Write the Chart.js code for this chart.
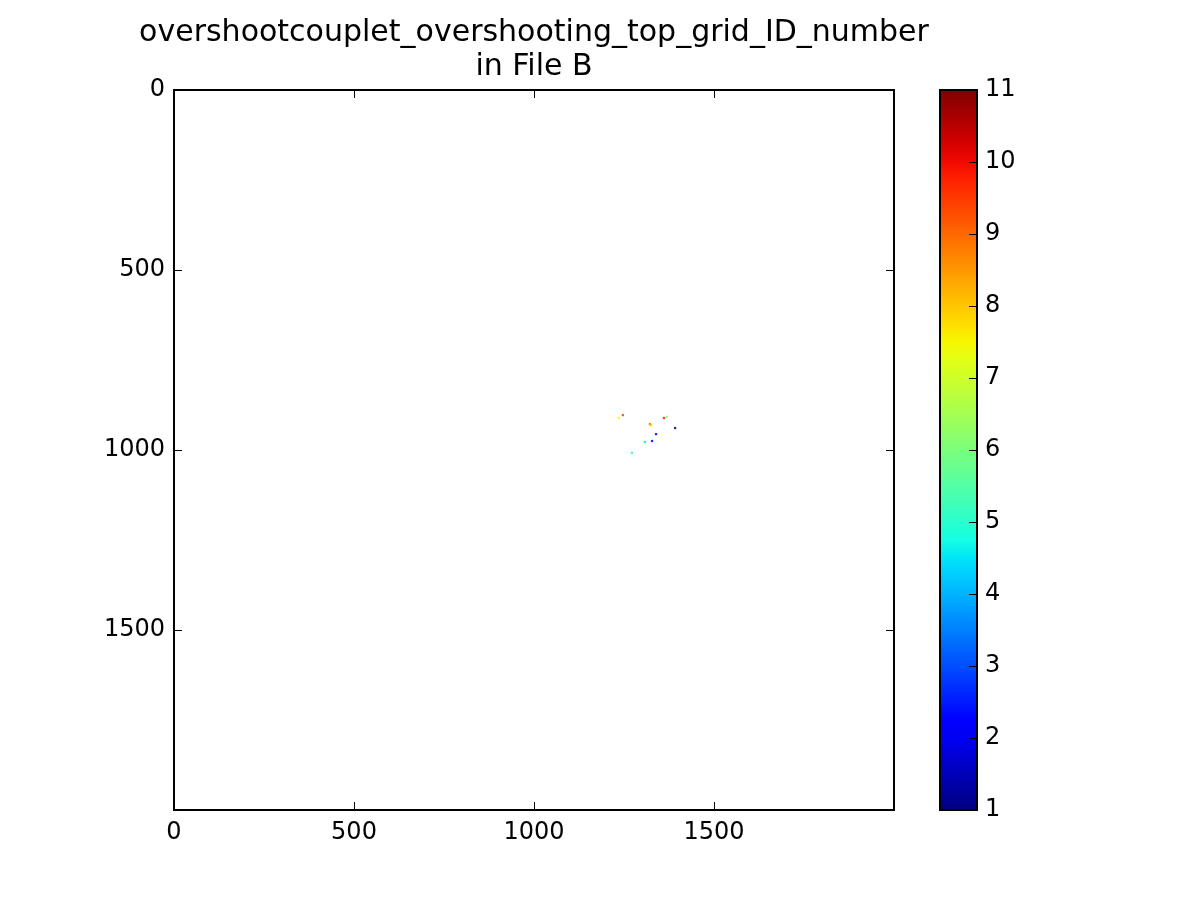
<!DOCTYPE html>
<html>
<head>
<meta charset="utf-8">
<script src="https://cdn.jsdelivr.net/npm/chart.js@4.4.1/dist/chart.umd.min.js"></script>
<style>
  body { margin: 0; background: #fff; }
  #wrap { position: relative; width: 1200px; height: 900px; }
  #wrap canvas { position: absolute; top: 0; }
</style>
</head>
<body>
<div id="wrap">
  <canvas id="imgChart" width="1068" height="900" style="left:0"></canvas>
  <canvas id="cbarChart" width="100" height="900" style="left:930px"></canvas>
</div>
<script>
const titleLines = ['overshootcouplet_overshooting_top_grid_ID_number', 'in File B']

// pixels that carry a grid ID (column, row, value)
const pixelX = [1247, 1236, 1361, 1369, 1322, 1325, 1392, 1339, 1328, 1308, 1272]
const pixelY = [903, 911, 911, 908, 928, 931, 939, 956, 975, 978, 1008]
const pixelVal = [9.4, 7.3, 9.8, 6.0, 9.0, 8.0, 1.0, 2.0, 2.1, 4.5, 5.0]

const axisTicks = [0, 500, 1000, 1500]
const axisMax = 2000
const cbarTicks = [1, 2, 3, 4, 5, 6, 7, 8, 9, 10, 11]
const cbarMin = 1
const cbarMax = 11

const FONT = 'DejaVu Sans'
const TICK_LEN = 8

// matplotlib jet colormap
const JET = {
  r: [[0, 0], [0.35, 0], [0.66, 1], [0.89, 1], [1, 0.5]],
  g: [[0, 0], [0.125, 0], [0.375, 1], [0.64, 1], [0.91, 0], [1, 0]],
  b: [[0, 0.5], [0.11, 1], [0.34, 1], [0.65, 0], [1, 0]],
}

function channel(stops, t) {
  for (let i = 1; i < stops.length; i++) {
    const [x0, y0] = stops[i - 1]
    const [x1, y1] = stops[i]
    if (t <= x1) return y0 + (y1 - y0) * (t - x0) / (x1 - x0)
  }
  return stops[stops.length - 1][1]
}

function jet(t, alpha = 1) {
  t = Math.min(1, Math.max(0, t))
  const r = Math.round(channel(JET.r, t) * 255)
  const g = Math.round(channel(JET.g, t) * 255)
  const b = Math.round(channel(JET.b, t) * 255)
  return `rgba(${r},${g},${b},${alpha})`
}

const valueColor = v => jet((v - cbarMin) / (cbarMax - cbarMin), 0.85)

// black frame round the plot area
const framePlugin = {
  id: 'frame',
  afterDraw(chart) {
    const { ctx, chartArea: a } = chart
    ctx.save()
    ctx.strokeStyle = '#000'
    ctx.lineWidth = 2
    ctx.strokeRect(a.left, a.top, a.right - a.left, a.bottom - a.top)
    ctx.restore()
  },
}

// matplotlib style ticks pointing into the plot
const inwardTicks = {
  id: 'inwardTicks',
  afterDraw(chart, args, opts) {
    const { ctx, chartArea: a, scales } = chart
    ctx.save()
    ctx.strokeStyle = '#000'
    ctx.lineWidth = 1
    ctx.beginPath()
    if (opts.x) {
      for (const v of opts.x) {
        const px = Math.round(scales.x.getPixelForValue(v)) + 0.5
        ctx.moveTo(px, a.bottom); ctx.lineTo(px, a.bottom - TICK_LEN)
        ctx.moveTo(px, a.top); ctx.lineTo(px, a.top + TICK_LEN)
      }
    }
    if (opts.y) {
      for (const v of opts.y) {
        const py = Math.round(scales.y.getPixelForValue(v)) + 0.5
        if (opts.left) { ctx.moveTo(a.left, py); ctx.lineTo(a.left + TICK_LEN, py) }
        ctx.moveTo(a.right, py); ctx.lineTo(a.right - TICK_LEN, py)
      }
    }
    ctx.stroke()
    ctx.restore()
  },
}

const fixedTicks = list => scale => { scale.ticks = list.map(value => ({ value })) }
const plainLabel = value => String(value)

// canvas is 1068 wide; an empty right axis (174 px) keeps the title centred over the plot
new Chart(document.getElementById('imgChart'), {
  type: 'scatter',
  data: {
    datasets: [{
      data: pixelX.map((x, i) => ({ x, y: pixelY[i], v: pixelVal[i] })),
      backgroundColor: pixelVal.map(valueColor),
      borderWidth: 0,
      pointStyle: 'rect',
      pointRadius: 1.6,
      pointHoverRadius: 1.6,
    }],
  },
  plugins: [framePlugin, inwardTicks],
  options: {
    responsive: false,
    animation: false,
    events: [],
    layout: { padding: 0 },
    plugins: {
      legend: { display: false },
      tooltip: { enabled: false },
      title: {
        display: true,
        text: titleLines,
        color: '#000',
        font: { family: FONT, size: 30, weight: 'normal', lineHeight: 1.15 },
        padding: { top: 15.75, bottom: 5.25 },
      },
      inwardTicks: { x: axisTicks, y: axisTicks, left: true },
    },
    scales: {
      x: {
        type: 'linear',
        min: 0,
        max: axisMax,
        afterBuildTicks: fixedTicks(axisTicks),
        afterFit: s => { s.height = 90 },
        grid: { display: false, drawTicks: false },
        border: { display: false },
        ticks: { color: '#000', padding: 8, maxRotation: 0, callback: plainLabel, font: { family: FONT, size: 24 } },
      },
      y: {
        type: 'linear',
        reverse: true,
        min: 0,
        max: axisMax,
        afterBuildTicks: fixedTicks(axisTicks),
        afterFit: s => { s.width = 174 },
        grid: { display: false, drawTicks: false },
        border: { display: false },
        ticks: { color: '#000', padding: 9, callback: plainLabel, font: { family: FONT, size: 24 } },
      },
      spacer: {
        type: 'linear',
        position: 'right',
        min: 0,
        max: axisMax,
        afterFit: s => { s.width = 174 },
        grid: { display: false, drawTicks: false },
        border: { display: false },
        ticks: { display: false },
      },
    },
  },
})

// colour bar: one floating bar filled with the jet ramp along its value scale
new Chart(document.getElementById('cbarChart'), {
  type: 'bar',
  data: {
    labels: ['cbar'],
    datasets: [{
      data: [[cbarMin, cbarMax]],
      borderWidth: 0,
      barPercentage: 1,
      categoryPercentage: 1,
      backgroundColor(context) {
        const { chart } = context
        const y = chart.scales.y
        if (!chart.chartArea || !y) return '#888'
        const y0 = y.getPixelForValue(cbarMin)
        const y1 = y.getPixelForValue(cbarMax)
        if (!Number.isFinite(y0) || !Number.isFinite(y1)) return '#888'
        const grad = chart.ctx.createLinearGradient(0, y0, 0, y1)
        for (let i = 0; i <= 40; i++) grad.addColorStop(i / 40, jet(i / 40))
        return grad
      },
    }],
  },
  plugins: [framePlugin, inwardTicks],
  options: {
    responsive: false,
    animation: false,
    events: [],
    layout: { padding: { left: 10, right: 0, top: 90, bottom: 90 } },
    plugins: {
      legend: { display: false },
      tooltip: { enabled: false },
      inwardTicks: { y: cbarTicks, left: false },
    },
    scales: {
      x: { display: false },
      y: {
        position: 'right',
        min: cbarMin,
        max: cbarMax,
        afterBuildTicks: fixedTicks(cbarTicks),
        afterFit: s => { s.width = 53 },
        grid: { display: false, drawTicks: false },
        border: { display: false },
        ticks: { color: '#000', padding: 8, callback: plainLabel, font: { family: FONT, size: 24 } },
      },
    },
  },
})
</script>
</body>
</html>
